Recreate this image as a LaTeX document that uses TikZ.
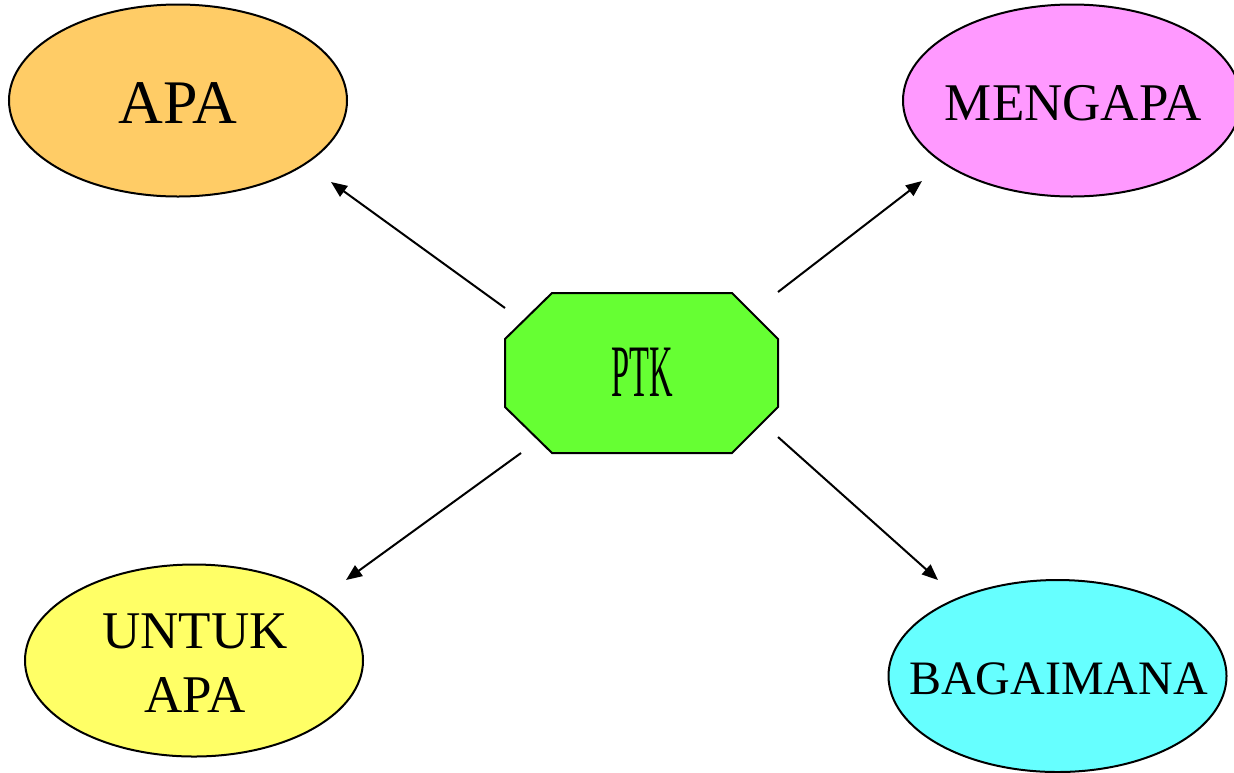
\documentclass[tikz,border=0pt]{standalone}
\usepackage{fontspec}
\usepackage{graphicx}
\setmainfont{Liberation Serif}
\usetikzlibrary{shapes.geometric,arrows.meta}
\definecolor{cApa}{HTML}{FFCC66}
\definecolor{cMeng}{HTML}{FF99FF}
\definecolor{cUntuk}{HTML}{FFFF66}
\definecolor{cBag}{HTML}{66FFFF}
\definecolor{cPtk}{HTML}{66FF33}
\begin{document}
\begin{tikzpicture}[x=0.5pt,y=-0.5pt,
  oval/.style={ellipse,draw=black,line width=1pt,minimum width=169pt,minimum height=96pt,inner sep=0pt},
  lbl/.style={inner sep=0pt,text=black,align=center},
  conn/.style={line width=1pt,-{Triangle[length=8pt,width=6.5pt]}}]
\useasboundingbox (0,0) rectangle (1234,772);
\clip (0,0) rectangle (1234,772);
\fill[white] (0,0) rectangle (1234,772);

% ellipses
\node[oval,fill=cApa]   (apa)   at (178,100.5) {};
\node[oval,fill=cMeng]  (meng)  at (1072,100.5) {};
\node[oval,fill=cUntuk] (untuk) at (194,660.5) {};
\node[oval,fill=cBag]   (bag)   at (1057.5,676) {};

\node[lbl,font=\fontsize{31}{36}\selectfont] (apat) at (178,103.5) {APA};
\node[lbl,font=\fontsize{26.5}{32}\selectfont] (mengt) at (1073.5,103.5) {MENGAPA};
\node[lbl,font=\fontsize{26.5}{32}\selectfont] (untukt) at (195,663) {UNTUK\\APA};
\node[lbl,font=\fontsize{24}{28}\selectfont] (bagt) at (1058.5,679) {BAGAIMANA};

% octagon
\draw[fill=cPtk,line width=1pt] (552,293) -- (732,293) -- (778,339) -- (778,407)
  -- (732,453) -- (552,453) -- (505,407) -- (505,339) -- cycle;
\node[lbl] (ptk) at (642.5,372.5) {\scalebox{0.44}[1]{\fontsize{37}{40}\selectfont PTK}};

% connector end points
\coordinate (s1) at (505,308);  \coordinate (t1) at (331,182);
\coordinate (s2) at (778,292);  \coordinate (t2) at (922,181);
\coordinate (s3) at (521,453);  \coordinate (t3) at (346,580);
\coordinate (s4) at (778,437);  \coordinate (t4) at (938,580);

\draw[conn] (s1) -- (t1);
\draw[conn] (s2) -- (t2);
\draw[conn] (s3) -- (t3);
\draw[conn] (s4) -- (t4);
\end{tikzpicture}
\end{document}
